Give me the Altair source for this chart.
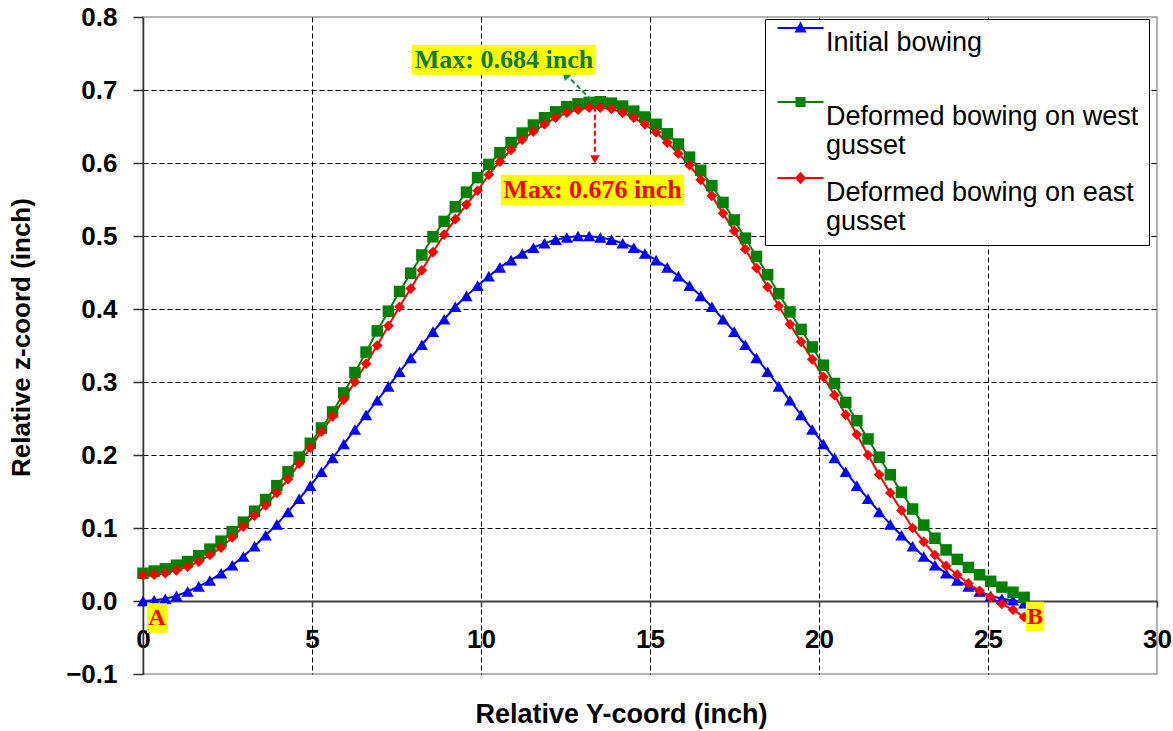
import altair as alt
import pandas as pd

# ---------------- data ----------------
x_vals = [0.00, 0.33, 0.66, 0.99, 1.32, 1.65, 1.98, 2.31, 2.64, 2.97,
          3.30, 3.63, 3.96, 4.29, 4.62, 4.95, 5.28, 5.61, 5.94, 6.27,
          6.60, 6.93, 7.26, 7.59, 7.92, 8.25, 8.58, 8.91, 9.24, 9.57,
          9.90, 10.23, 10.56, 10.89, 11.22, 11.55, 11.88, 12.21, 12.54, 12.87,
          13.20, 13.53, 13.86, 14.19, 14.52, 14.85, 15.18, 15.51, 15.84, 16.17,
          16.50, 16.83, 17.16, 17.49, 17.82, 18.15, 18.48, 18.81, 19.14, 19.47,
          19.80, 20.13, 20.46, 20.79, 21.12, 21.45, 21.78, 22.11, 22.44, 22.77,
          23.10, 23.43, 23.76, 24.09, 24.42, 24.75, 25.08, 25.41, 25.74, 26.07]

initial_bowing = [0.000, 0.001, 0.003, 0.007, 0.013, 0.020, 0.028, 0.038, 0.049, 0.061,
                  0.075, 0.090, 0.105, 0.122, 0.140, 0.158, 0.177, 0.196, 0.215, 0.235,
                  0.255, 0.275, 0.294, 0.314, 0.333, 0.351, 0.369, 0.386, 0.403, 0.418,
                  0.432, 0.445, 0.457, 0.467, 0.476, 0.484, 0.490, 0.495, 0.498, 0.500,
                  0.500, 0.498, 0.495, 0.490, 0.484, 0.476, 0.467, 0.457, 0.445, 0.432,
                  0.418, 0.403, 0.386, 0.369, 0.351, 0.333, 0.314, 0.294, 0.275, 0.255,
                  0.235, 0.215, 0.196, 0.177, 0.158, 0.140, 0.122, 0.105, 0.090, 0.075,
                  0.061, 0.049, 0.038, 0.028, 0.020, 0.013, 0.007, 0.003, 0.001, -0.003]

west_gusset = [0.038, 0.041, 0.044, 0.049, 0.054, 0.062, 0.071, 0.082, 0.095, 0.108,
               0.123, 0.139, 0.158, 0.177, 0.197, 0.216, 0.237, 0.259, 0.285, 0.313,
               0.341, 0.370, 0.397, 0.424, 0.449, 0.474, 0.499, 0.520, 0.540, 0.560,
               0.580, 0.598, 0.614, 0.628, 0.641, 0.652, 0.662, 0.670, 0.677, 0.681,
               0.683, 0.684, 0.682, 0.678, 0.671, 0.663, 0.653, 0.640, 0.626, 0.608,
               0.590, 0.569, 0.546, 0.522, 0.497, 0.472, 0.447, 0.421, 0.396, 0.372,
               0.348, 0.323, 0.298, 0.272, 0.247, 0.222, 0.197, 0.173, 0.149, 0.126,
               0.104, 0.086, 0.070, 0.057, 0.046, 0.036, 0.027, 0.019, 0.012, 0.005]

east_gusset = [0.035, 0.036, 0.038, 0.042, 0.047, 0.054, 0.063, 0.073, 0.087, 0.102,
               0.117, 0.131, 0.148, 0.167, 0.188, 0.210, 0.232, 0.253, 0.276, 0.300,
               0.325, 0.350, 0.377, 0.403, 0.428, 0.453, 0.478, 0.502, 0.523, 0.543,
               0.562, 0.584, 0.602, 0.618, 0.632, 0.643, 0.653, 0.662, 0.669, 0.673,
               0.676, 0.676, 0.674, 0.669, 0.662, 0.653, 0.642, 0.628, 0.613, 0.597,
               0.577, 0.555, 0.531, 0.507, 0.482, 0.456, 0.430, 0.404, 0.379, 0.355,
               0.331, 0.307, 0.282, 0.255, 0.228, 0.200, 0.173, 0.148, 0.124, 0.100,
               0.081, 0.063, 0.048, 0.036, 0.024, 0.014, 0.005, -0.004, -0.012, -0.022]

series_names = ["Initial bowing",
                "Deformed bowing on west gusset",
                "Deformed bowing on east gusset"]
series_colors = ["#0000FF", "#008000", "#FF0000"]
series_shapes = ["triangle-up", "square", "diamond"]
series_sizes = [150, 115, 135]

# annotations
label_text = ["Max: 0.684 inch", "Max: 0.676 inch", "A", "B"]
label_x = [10.68, 13.30, 0.41, 26.39]
label_y = [0.741, 0.563, -0.0235, -0.0215]
label_color = ["#127A3A", "#FF0000", "#FF0000", "#FF0000"]
label_size = [26, 26, 24, 24]
box_x1 = [7.96, 10.59, 0.12, 26.12]
box_x2 = [13.40, 16.01, 0.71, 26.66]
box_y1 = [0.762, 0.584, -0.003, -0.001]
box_y2 = [0.721, 0.542, -0.044, -0.042]

arrow_x1 = [13.27, 13.37]
arrow_y1 = [0.686, 0.677]
arrow_x2 = [12.52, 13.37]
arrow_y2 = [0.721, 0.612]
arrow_color = ["#1B8A4A", "#FF0000"]
head_x = [12.50, 13.37]
head_y = [0.721, 0.605]
head_shape = ["triangle-up", "triangle-down"]
head_angle = [316.6, 0]

# ---------------- tables ----------------
rows = []
for name, vals in zip(series_names, [initial_bowing, west_gusset, east_gusset]):
    for i, (xv, zv) in enumerate(zip(x_vals, vals)):
        rows.append({"series": name, "x": xv, "z": zv, "i": i})
df = pd.DataFrame(rows)

lab = pd.DataFrame({"text": label_text, "x": label_x, "z": label_y,
                    "color": label_color, "fs": label_size,
                    "x1": box_x1, "x2": box_x2, "y1": box_y1, "y2": box_y2})
arr = pd.DataFrame({"x": arrow_x1, "z": arrow_y1, "x2": arrow_x2, "z2": arrow_y2,
                    "color": arrow_color, "hx": head_x, "hz": head_y,
                    "shape": head_shape, "angle": head_angle})

# ---------------- scales & axes ----------------
FONT = "Liberation Sans"
x_scale = alt.Scale(domain=[0, 30], nice=False, zero=False)
y_scale = alt.Scale(domain=[-0.1, 0.8], nice=False, zero=False)

x_axis = alt.Axis(
    title="Relative Y-coord (inch)", values=[0, 5, 10, 15, 20, 25, 30],
    offset=-73, labelFlush=False, labelOverlap=False,
    labelFont=FONT, labelFontSize=26, labelFontWeight="bold", labelColor="black",
    labelPadding=19, tickSize=6, tickColor="#404040", tickWidth=1.5,
    domainColor="#404040", domainWidth=2,
    grid=True, gridColor="black", gridDash=[5, 3], gridWidth=1,
    gridOpacity=alt.ExprRef("datum.value <= 0 || datum.value >= 30 ? 0 : 1"),
    titleFont=FONT, titleFontSize=27, titleFontWeight="bold", titleColor="black",
    titleX=478, titleY=113, titleBaseline="middle", titleAlign="center",
)
y_axis = alt.Axis(
    title="Relative z-coord (inch)",
    values=[-0.1, 0.0, 0.1, 0.2, 0.3, 0.4, 0.5, 0.6, 0.7, 0.8], format=".1f",
    labelFont=FONT, labelFontSize=26, labelFontWeight="bold", labelColor="black",
    labelPadding=16, tickSize=10, tickColor="#303030", tickWidth=1.5,
    domainColor="#303030", domainWidth=1.5,
    grid=True, gridColor="black", gridDash=[5, 3], gridWidth=1,
    gridOpacity=alt.ExprRef("datum.value <= 0.001 || datum.value >= 0.79 ? 0 : 1"),
    titleFont=FONT, titleFontSize=26, titleFontWeight="bold", titleColor="black",
    titleAngle=270, titleX=-122, titleY=320, titleBaseline="middle", titleAlign="center",
)


def X(field="x"):
    return alt.X(f"{field}:Q", scale=x_scale, axis=x_axis)


def Y(field="z"):
    return alt.Y(f"{field}:Q", scale=y_scale, axis=y_axis)


color_scale = alt.Scale(domain=series_names, range=series_colors)

lines = alt.Chart(df).mark_line(strokeWidth=2).encode(
    x=X(), y=Y(),
    color=alt.Color("series:N", scale=color_scale, legend=None),
    detail="series:N",
    order="i:Q",
)

points = alt.Chart(df).mark_point(filled=True, opacity=1).encode(
    x=X(), y=Y(),
    color=alt.Color("series:N", scale=color_scale, legend=None),
    shape=alt.Shape("series:N", scale=alt.Scale(domain=series_names, range=series_shapes), legend=None),
    size=alt.Size("series:N", scale=alt.Scale(domain=series_names, range=series_sizes), legend=None),
)

# legend symbols: a line with the marker on it (unit = 10 px)
SHIFT_Y = 1.45
SHIFT_X = 1.2


def sym(marker_pts):
    line = (f"M{-2.3 + SHIFT_X:.2f},{-0.1 - SHIFT_Y:.3f}H{2.3 + SHIFT_X:.2f}"
            f"V{0.1 - SHIFT_Y:.3f}H{-2.3 + SHIFT_X:.2f}Z")
    mk = "M" + "L".join(f"{a + SHIFT_X:.2f},{b - SHIFT_Y:.3f}" for a, b in marker_pts) + "Z"
    return line + mk


legend_paths = [
    sym([(0, -0.65), (0.62, 0.45), (-0.62, 0.45)]),
    sym([(-0.5, -0.5), (0.5, -0.5), (0.5, 0.5), (-0.5, 0.5)]),
    sym([(0, -0.62), (0.55, 0), (0, 0.62), (-0.55, 0)]),
]

legend_def = alt.Legend(
    title=None, orient="none", legendX=622, legendY=2, direction="vertical",
    labelExpr=("datum.label == 'Initial bowing' ? ['Initial bowing', ' '] : "
               "datum.label == 'Deformed bowing on west gusset' ? ['Deformed bowing on west', 'gusset'] : "
               "['Deformed bowing on east', 'gusset']"),
    labelFont=FONT, labelFontSize=27, labelColor="black", labelLimit=600,
    labelOffset=24, symbolSize=400, symbolStrokeWidth=0, symbolOpacity=1,
    padding=10, rowPadding=12, strokeColor="black", fillColor="white",
)

legend_layer = alt.Chart(df).mark_point(filled=True, opacity=0).encode(
    x=X(), y=Y(),
    color=alt.Color("series:N", scale=color_scale, legend=legend_def),
    shape=alt.Shape("series:N", scale=alt.Scale(domain=series_names, range=legend_paths), legend=legend_def),
)

boxes = alt.Chart(lab).mark_rect(color="#FFFF00").encode(
    x=X("x1"), x2="x2", y=Y("y1"), y2="y2",
)
texts = alt.Chart(lab).mark_text(font="Liberation Serif", fontWeight="bold",
                                 baseline="middle", align="center").encode(
    x=X(), y=Y(), text="text:N",
    color=alt.Color("color:N", scale=None),
    size=alt.Size("fs:Q", scale=None),
)
arrow_lines = alt.Chart(arr).mark_rule(strokeDash=[5, 3], strokeWidth=2).encode(
    x=X(), y=Y(), x2="x2", y2="z2",
    color=alt.Color("color:N", scale=None),
)
arrow_heads = alt.Chart(arr).mark_point(filled=True, opacity=1, size=90).encode(
    x=X("hx"), y=Y("hz"),
    color=alt.Color("color:N", scale=None),
    shape=alt.Shape("shape:N", scale=None),
    angle=alt.Angle("angle:Q", scale=None),
)

chart = alt.layer(
    lines, points, legend_layer, arrow_lines, arrow_heads, boxes, texts
).resolve_scale(
    color="independent", shape="independent", size="independent"
).properties(
    width=1014, height=657,
    autosize=alt.AutoSizeParams(type="none"),
    padding={"left": 143, "top": 17, "right": 16, "bottom": 57},
    background="white",
).configure_view(
    stroke="#9A9A9A", strokeWidth=1.5
)

chart.save("out.html", embed_options={"renderer": "svg", "actions": False})
